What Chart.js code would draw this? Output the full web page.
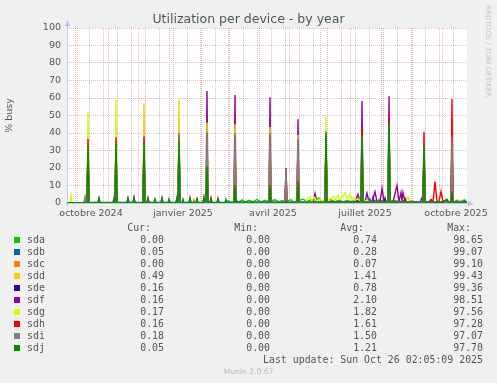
<!DOCTYPE html>
<html>
<head>
<meta charset="utf-8">
<script src="https://cdn.jsdelivr.net/npm/chart.js@4/dist/chart.umd.min.js"></script>
<style>
  html, body { margin: 0; padding: 0; background: #f0f0f0; }
  #wrap { position: relative; width: 497px; height: 383px; overflow: hidden; }
  #wrap canvas { position: absolute; left: 0; top: 0; }
  #title { position: absolute; left: 0; top: 11px; width: 497px; text-align: center;
           font: 12.5px 'DejaVu Sans'; line-height: 15px; color: #555; }
  #watermark { position: absolute; left: 484px; top: 5px; writing-mode: vertical-rl;
               font: 7px 'DejaVu Sans'; color: #c4c4c4; letter-spacing: 0.1px; }
  .lg { position: absolute; white-space: pre; color: #555;
        font-family: 'DejaVu Sans Mono'; font-size: 9.9px; line-height: 12px; }
  .sw { position: absolute; width: 6px; height: 6px; }
  #footer { position: absolute; left: 0; width: 497px; top: 366px; text-align: center;
            font: 7.6px 'DejaVu Sans'; line-height: 12px; color: #bbb; }
</style>
</head>
<body>
<div id="wrap">
  <canvas id="graph" width="497" height="383" style="width:497px;height:383px"></canvas>
  <div id="title">Utilization per device - by year</div>
  <div id="watermark">RRDTOOL / TOBI OETIKER</div>
  <div id="legend"></div>
  <div id="footer">Munin 2.0.67</div>
</div>
<script>
// devices et couleurs munin
const names = ['sda', 'sdb', 'sdc', 'sdd', 'sde', 'sdf', 'sdg', 'sdh', 'sdi', 'sdj'];
const colors = ['#00CC00', '#0066B3', '#FF8000', '#FFCC00', '#330099', '#990099', '#CCFF00', '#FF0000', '#808080', '#008F00'];
const curVals = [0.00, 0.05, 0.00, 0.49, 0.16, 0.16, 0.17, 0.16, 0.18, 0.05];
const minVals = [0.00, 0.00, 0.00, 0.00, 0.00, 0.00, 0.00, 0.00, 0.00, 0.00];
const avgVals = [0.74, 0.28, 0.07, 1.41, 0.78, 2.10, 1.82, 1.61, 1.50, 1.21];
const maxVals = [98.65, 99.07, 99.10, 99.43, 99.36, 98.51, 97.56, 97.28, 97.07, 97.70];

// axe x : jours depuis le 21 sept. 2024 (1 px par jour)
const xLabelDays = [24, 116, 206, 298, 389];
const xLabels = ['octobre 2024', 'janvier 2025', 'avril 2025', 'juillet 2025', 'octobre 2025'];
const monthDays = [10, 41, 71, 102, 133, 161, 192, 222, 253, 283, 314, 345, 375];
const weekDays = [8, 22, 36, 50, 64, 78, 92, 106, 120, 134, 148, 162, 176, 190, 204, 218, 232, 246, 260, 274, 288, 302, 316, 330, 344, 358, 372, 386];

// [jour, % busy]
const sda = [[0,0.1],[20,0.1],[21,28],[22,0.1],[48,0.1],[49,30],[50,0.1],[76,0.1],[77,30],[78,0.1],[111,0.1],[112,31],[113,0.1],[139,0.1],[140,18],[141,0.1],[158,0.1],
  [161,1.2],[164,0.4],[167,0.8],[168,8],[169,1.4],[172,0.6],[175,1.8],[178,0.5],[182,1.6],[186,0.7],[190,2.0],[194,0.6],[198,1.5],[202,0.6],[203,10],[204,1.2],[208,1.8],[212,0.6],[215,1.4],[218,0.8],[219,3],[220,1],
  [224,1.9],[227,0.6],[230,1.2],[231,10],[232,1.4],[236,2.2],[240,0.8],[244,1.8],[248,0.7],[252,2.8],[255,1.0],[258,1.2],[259,35],[260,1.2],[264,1.8],[268,0.7],[272,1.6],[276,0.6],[280,1.4],[284,0.8],[288,1.5],[292,0.7],[294,1.0],[295,35],[296,1.0],
  [300,1.6],[304,0.6],[308,1.4],[312,0.7],[316,1.6],[320,0.8],[321,1],[322,40],[323,1],[328,1.5],[332,0.6],[336,1.3],[340,0.5],[345,1.2],[350,0.4],[356,0.5],[357,27],[358,0.5],[365,1.2],[370,0.4],[376,1.0],[380,0.4],[384,0.5],[385,5],[386,0.5],[392,1.0],[396,0.3],[400,0.4]];
const sdb = [[0,0.1],[20,0.1],[21,20],[22,0.1],[48,0.1],[49,22],[50,0.1],[76,0.1],[77,22],[78,0.1],[111,0.1],[112,22],[113,0.1],[139,0.1],[140,20],[141,0.1],[167,0.2],[168,18],[169,0.2],[202,0.2],[203,18],[204,0.2],[218,0.2],[219,6],[220,0.2],
  [230,0.2],[231,16],[232,0.2],[258,0.2],[259,20],[260,0.2],[294,0.3],[295,20],[296,0.3],[302,0.3],[303,2.2],[304,0.3],[311,0.3],[312,1.8],[313,0.3],[321,0.3],[322,22],[323,0.3],[356,0.3],[357,18],[358,0.3],[384,0.3],[385,20],[386,0.3],[400,0.2]];
const sdc = [[0,0],[17,0],[18,3.5],[19,0],[126,0],[127,1.8],[128,0],[400,0]];
const sdd = [[0,0.2],[20,0.2],[21,30],[22,0.2],[48,0.2],[49,31],[50,0.2],[76,0.2],[77,57],[78,0.2],[111,0.2],[112,59],[113,0.2],[139,0.2],[140,38],[141,0.2],[167,0.2],[168,37],[169,0.2],[202,0.2],[203,37],[204,0.2],[218,0.2],[219,15],[220,0.2],
  [230,0.2],[231,34],[232,0.2],[258,0.3],[259,36],[260,0.3],[294,0.3],[295,36],[296,0.3],[321,0.3],[322,42],[323,0.3],[338,0.3],[341,3.6],[343,0.4],[356,0.4],[357,29],[358,0.4],[384,0.4],[385,34],[386,0.4],[391,1.8],[393,0.4],[400,0.5]];
const sde = [[0,0.2],[20,0.2],[21,30],[22,0.2],[48,0.2],[49,30],[50,0.2],[76,0.2],[77,31],[78,0.2],[111,0.2],[112,33],[113,0.2],[139,0.2],[140,35],[141,0.2],[167,0.3],[168,34],[169,0.3],[202,0.3],[203,34],[204,0.3],[218,0.3],[219,14],[220,0.3],
  [230,0.3],[231,32],[232,0.3],[258,0.4],[259,34],[260,0.4],[289,0.5],[290,2.5],[291,0.5],[294,0.5],[295,34],[296,0.5],[305,0.5],[306,3],[307,0.5],[317,0.5],[318,2.8],[319,0.5],[321,0.5],[322,40],[323,0.5],[337,0.5],[338,2.5],[339,0.5],
  [356,0.5],[357,28],[358,0.5],[384,0.4],[385,33],[386,0.4],[400,0.3]];
const sdf = [[0,0.1],[20,0.1],[21,34],[22,0.1],[31,0.1],[32,2.8],[33,0.1],[48,0.1],[49,35],[50,0.1],[60,0.1],[61,2.9],[62,0.1],[66,0.1],[67,3.2],[68,0.1],[76,0.1],[77,38],[78,0.1],[80,0.1],[81,2.8],[82,0.1],[94,0.1],[95,2.9],[96,0.1],
  [109,0.1],[110,3.1],[111,0.1],[112,37],[113,0.1],[122,0.1],[123,3],[124,0.1],[136,0.1],[137,3.3],[138,0.1],[139,0.1],[140,64],[141,0.1],[167,0.2],[168,61.7],[169,0.2],[202,0.3],[203,60.4],[204,0.3],[218,0.3],[219,20],[220,0.3],
  [230,0.3],[231,47.8],[232,0.3],[246,0.3],[248,5.5],[250,0.4],[258,0.4],[259,38],[260,0.4],[288,0.5],[291,5],[293,0.6],[294,0.6],[295,58.3],[296,0.6],[298,0.6],[300,5.6],[302,0.6],[305,0.6],[308,6.5],[310,0.6],[313,0.7],[315,8.4],[317,0.6],
  [321,0.6],[322,61],[323,0.6],[326,0.6],[330,10],[332,0.8],[334,6],[335,1.5],[336,6],[338,0.6],[353,0.5],[355,3],[356,0.5],[357,31],[358,0.5],[384,0.5],[385,36],[386,0.5],[400,0.3]];
const sdg = [[0,0.1],[3,0.1],[4,4.5],[5,0.1],[20,0.1],[21,52],[22,0.1],[31,0.1],[32,1.6],[33,0.1],[48,0.1],[49,59],[50,0.1],[76,0.1],[77,33],[78,0.1],[111,0.1],[112,36],[113,0.1],[139,0.1],[140,46],[141,0.1],[167,0.2],[168,45],[169,0.2],
  [202,0.3],[203,43.6],[204,0.3],[218,0.3],[219,16],[220,0.3],[230,0.3],[231,38.8],[232,0.4],[238,0.5],[241,2.5],[243,3.6],[245,1.2],[247,3.4],[250,1],[253,2.2],[256,0.8],[258,1],[259,49.3],[260,1],[262,1.5],[264,2.8],[266,4],[268,1.8],
  [271,4.5],[273,2.2],[276,3.5],[278,6],[280,2.5],[283,5],[285,2.2],[286,3],[288,1.5],[291,2.5],[294,1],[295,37],[296,0.8],[300,1.5],[303,0.5],[321,0.4],[322,43],[323,0.4],[356,0.3],[357,30],[358,0.3],[384,0.3],[385,35],[386,0.3],[400,0.2]];
const sdh = [[0,0.1],[20,0.1],[21,36.5],[22,0.1],[48,0.1],[49,37.5],[50,0.1],[76,0.1],[77,33],[78,0.1],[111,0.1],[112,39],[113,0.1],[129,0.1],[130,2.2],[131,0.1],[139,0.1],[140,40],[141,0.1],[143,0.1],[144,3],[145,0.1],[150,0.1],[151,2.6],[152,0.1],
  [167,0.2],[168,39],[169,0.2],[202,0.2],[203,39],[204,0.2],[218,0.2],[219,18],[220,0.2],[230,0.2],[231,36],[232,0.2],[258,0.3],[259,39],[260,0.3],[294,0.4],[295,43.6],[296,0.4],[321,0.4],[322,49.3],[323,0.4],[356,0.4],[357,40.7],[358,0.4],
  [362,0.5],[364,2],[366,0.5],[368,12.2],[370,0.6],[372,1],[374,6.5],[376,0.6],[380,2],[382,0.5],[384,0.5],[385,59.4],[386,0.5],[400,0.3]];
const sdi = [[0,0.1],[17,0.1],[18,3],[19,0.3],[20,0.3],[21,33],[22,0.1],[46,0.1],[47,3],[48,0.3],[49,34],[50,0.1],[76,0.1],[77,33],[78,0.1],[111,0.1],[112,40],[113,0.1],[136,0.1],[137,3.5],[138,0.2],[139,0.3],[140,40.7],[141,0.1],
  [167,0.2],[168,40],[169,0.2],[202,0.3],[203,40],[204,0.3],[218,0.3],[219,19],[220,0.3],[230,0.3],[231,37],[232,0.3],[258,0.3],[259,37],[260,0.3],[294,0.4],[295,38],[296,0.4],[321,0.4],[322,44],[323,0.4],[356,0.4],[357,32],[358,0.4],
  [384,0.4],[385,38],[386,0.4],[390,1.5],[392,0.4],[396,1.6],[398,0.4],[400,0.4]];
const sdj = [[0,0.2],[20,0.3],[21,32.5],[22,0.3],[31,0.3],[32,2.5],[33,0.3],[46,0.3],[47,2.2],[48,0.5],[49,33.7],[50,0.3],[60,0.3],[61,2.5],[62,0.3],[66,0.3],[67,2.8],[68,0.3],[76,0.3],[77,34],[78,0.3],[80,0.3],[81,2.6],[82,0.3],
  [87,0.3],[88,2.4],[89,0.3],[94,0.3],[95,2.5],[96,0.3],[101,0.3],[102,2.3],[103,0.3],[109,0.3],[110,2.6],[111,0.8],[112,35],[113,0.3],[115,0.3],[116,2.2],[117,0.3],[122,0.3],[123,2.4],[124,0.3],[129,0.3],[130,2.3],[131,0.3],
  [136,0.3],[137,2.5],[138,0.4],[139,1],[140,20.7],[141,0.5],[143,0.3],[144,2.4],[145,0.3],[150,0.3],[151,2.3],[152,0.3],[158,0.3],[159,2.1],[160,0.3],[167,0.5],[168,10],[169,0.5],[202,0.5],[203,10],[204,0.5],[218,0.3],[219,1],[220,0.3],
  [230,0.5],[231,12],[232,0.5],[258,0.5],[259,40.7],[260,0.5],[294,0.5],[295,38.8],[296,0.5],[321,0.5],[322,45.7],[323,0.5],[356,0.5],[357,33],[358,0.5],[377,0.4],[379,2],[381,0.4],[384,0.5],[385,6.5],[386,0.5],[397,0.4],[398,1.6],[399,0.4],[400,0.3]];

const series = [sda, sdb, sdc, sdd, sde, sdf, sdg, sdh, sdi, sdj];

const RED = 'rgba(225,70,70,0.38)';
const GREY = 'rgba(110,110,110,0.42)';
const AXIS = 'rgba(150,150,240,0.5)';

// fond blanc du graphe + axes fléchés façon rrdtool
const rrdFrame = {
    id: 'rrdFrame',
    beforeDraw(chart) {
        const { ctx, chartArea: a } = chart;
        ctx.save();
        ctx.fillStyle = '#ffffff';
        ctx.fillRect(a.left, a.top, a.right - a.left, a.bottom - a.top);
        ctx.restore();
    },
    afterDatasetsDraw(chart) {
        const { ctx, chartArea: a } = chart;
        const x0 = Math.round(a.left) + 0.5, y0 = Math.round(a.bottom) + 0.5;
        ctx.save();
        ctx.strokeStyle = AXIS;
        ctx.fillStyle = AXIS;
        ctx.lineWidth = 1;
        ctx.beginPath();
        ctx.moveTo(x0, y0 + 2); ctx.lineTo(x0, a.top - 3);
        ctx.moveTo(x0 - 2, y0); ctx.lineTo(a.right + 2, y0);
        ctx.stroke();
        ctx.beginPath();
        ctx.moveTo(x0, a.top - 8); ctx.lineTo(x0 - 3, a.top - 2); ctx.lineTo(x0 + 3, a.top - 2); ctx.closePath();
        ctx.moveTo(a.right + 7, y0); ctx.lineTo(a.right + 1, y0 - 3); ctx.lineTo(a.right + 1, y0 + 3); ctx.closePath();
        ctx.fill();
        ctx.restore();
    }
};

const tickDays = [...new Set([...weekDays, ...monthDays, ...xLabelDays])].sort((a, b) => a - b);
const tickFont = { family: 'DejaVu Sans', size: 9.5 };

new Chart(document.getElementById('graph').getContext('2d'), {
    type: 'line',
    data: {
        datasets: series.map((pts, i) => ({
            label: names[i],
            data: pts.map(([x, y]) => ({ x, y })),
            borderColor: colors[i],
            backgroundColor: colors[i],
            borderWidth: 1.4,
            pointRadius: 0,
            tension: 0,
            order: names.length - i
        }))
    },
    options: {
        responsive: false,
        animation: false,
        events: [],
        layout: { padding: { left: 3, right: 30, top: 28, bottom: 0 } },
        plugins: { legend: { display: false }, tooltip: { enabled: false }, title: { display: false } },
        scales: {
            x: {
                type: 'linear', min: 0, max: 400,
                afterFit: s => { s.height = 180; },
                afterBuildTicks: s => { s.ticks = tickDays.map(v => ({ value: v })); },
                border: { display: false, dash: [1, 1] },
                grid: {
                    drawTicks: false,
                    color: c => monthDays.includes(c.tick.value) ? RED : (weekDays.includes(c.tick.value) ? GREY : 'rgba(0,0,0,0)')
                },
                ticks: {
                    autoSkip: false, maxRotation: 0, padding: 5,
                    color: '#555', font: tickFont,
                    callback: v => { const k = xLabelDays.indexOf(v); return k < 0 ? '' : xLabels[k]; }
                }
            },
            y: {
                min: 0, max: 100,
                afterFit: s => { s.width = 64; },
                border: { display: false, dash: [1, 1] },
                grid: {
                    drawTicks: false,
                    color: c => c.tick.value === 0 ? 'rgba(0,0,0,0)' : (c.tick.value % 10 === 0 ? RED : GREY)
                },
                ticks: {
                    stepSize: 5, padding: 6, color: '#555', font: tickFont,
                    callback: v => v % 10 === 0 ? v : ''
                },
                title: { display: true, text: '% busy', color: '#555', font: tickFont, padding: { top: 1, bottom: 0 } }
            }
        }
    },
    plugins: [rrdFrame]
});

// légende munin en texte
const legend = document.getElementById('legend');
function put(text, y, left, right, cls) {
    const d = document.createElement('div');
    d.className = cls || 'lg';
    d.textContent = text;
    d.style.top = (y - 6.5) + 'px';
    if (left != null) d.style.left = left + 'px';
    if (right != null) { d.style.right = (497 - right) + 'px'; d.style.textAlign = 'right'; }
    legend.appendChild(d);
}
put('Cur:', 228, null, 151);
put('Min:', 228, null, 258);
put('Avg:', 228, null, 364);
put('Max:', 228, null, 471);
names.forEach((n, i) => {
    const y = 240 + 12 * i;
    const sw = document.createElement('div');
    sw.className = 'sw';
    sw.style.left = '14px';
    sw.style.top = (y - 3) + 'px';
    sw.style.background = colors[i];
    legend.appendChild(sw);
    put(n, y, 27, null);
    put(curVals[i].toFixed(2), y, null, 164);
    put(minVals[i].toFixed(2), y, null, 270);
    put(avgVals[i].toFixed(2), y, null, 377);
    put(maxVals[i].toFixed(2), y, null, 483);
});
put('Last update: Sun Oct 26 02:05:09 2025', 360, null, 483);
</script>
</body>
</html>
